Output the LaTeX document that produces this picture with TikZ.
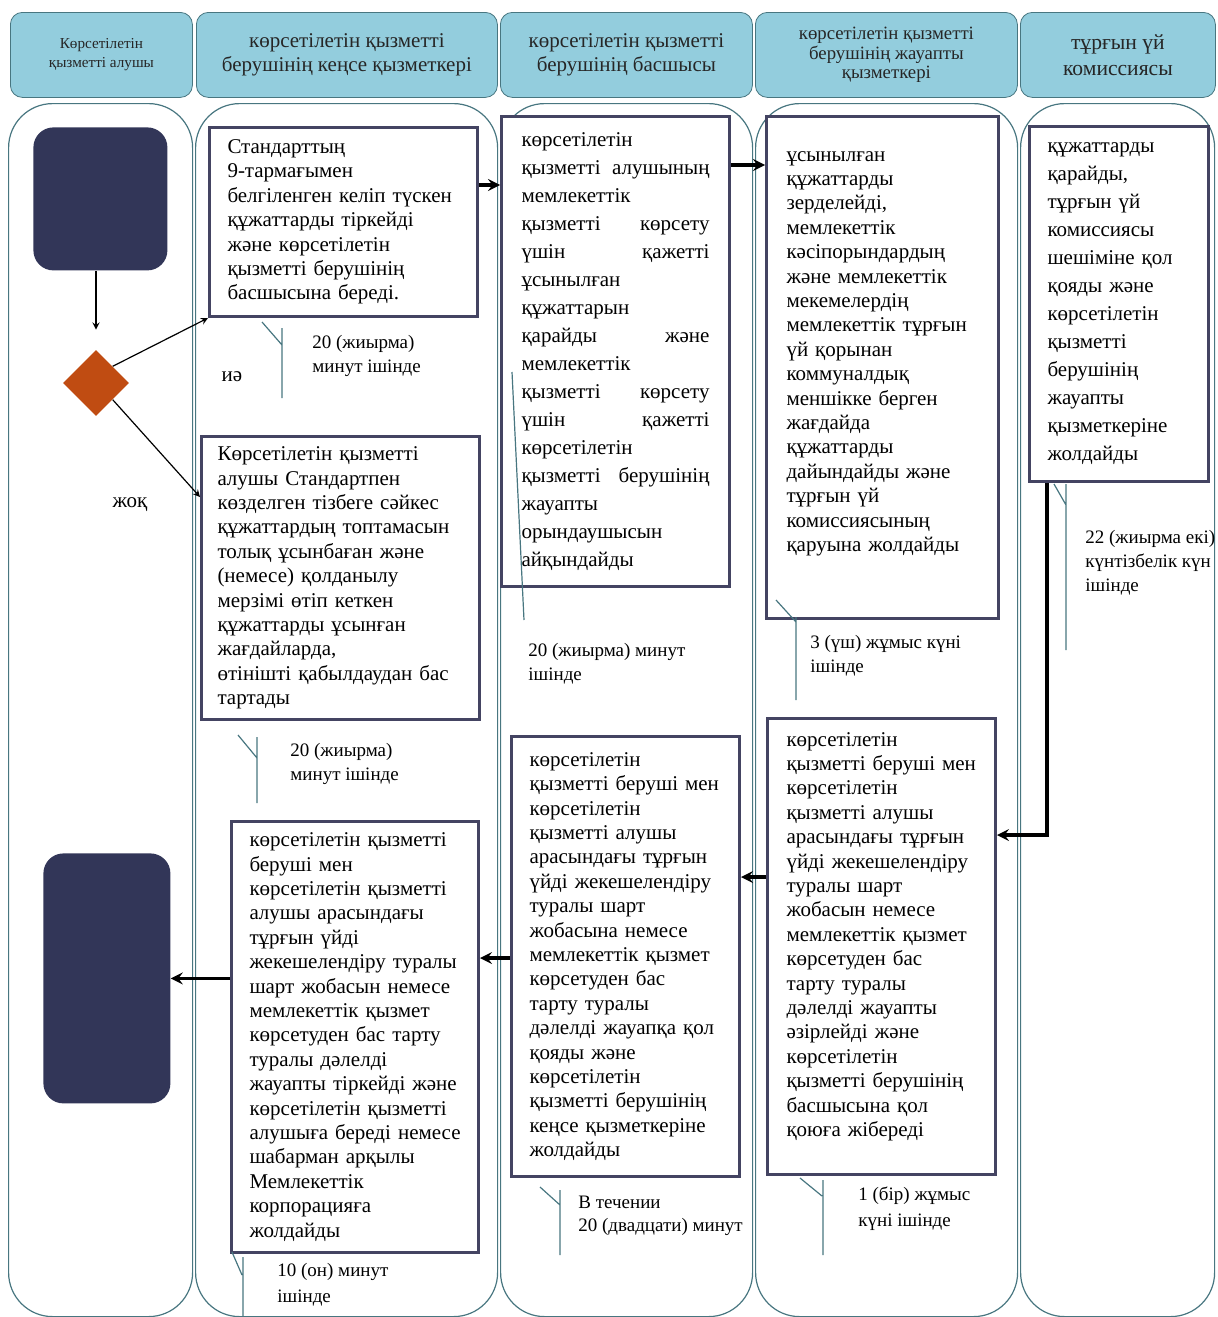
\documentclass[tikz,border=0pt]{standalone}
\usepackage{fontspec}
\setmainfont{Liberation Serif}
\usepackage{tikz}
\usetikzlibrary{shapes.geometric}
\definecolor{headblue}{RGB}{147,205,221}
\definecolor{laneline}{RGB}{72,118,128}
\definecolor{boxline}{RGB}{68,68,98}
\definecolor{navy}{RGB}{50,54,88}
\definecolor{rust}{RGB}{192,76,18}

\begin{document}
\begin{tikzpicture}[x=0.5pt, y=-0.5pt]
% Define styles
\tikzstyle{lanehead} = [rectangle, rounded corners=6pt, draw=laneline, fill=headblue, align=center, anchor=north west, minimum height=42.5pt, inner sep=0pt, text=black!85]
\tikzstyle{lane} = [rectangle, rounded corners=22pt, draw=laneline, line width=0.6pt, anchor=north west, minimum height=606.5pt]
\tikzstyle{terminal} = [rectangle, rounded corners=10pt, fill=navy, anchor=north west]
\tikzstyle{decision} = [diamond, fill=rust, minimum size=33pt, inner sep=0pt]
\tikzstyle{process} = [rectangle, draw=boxline, line width=1.5pt, fill=white, align=left, anchor=north west, inner ysep=0pt, font=\fontsize{10.5}{12.2}\selectfont]
\tikzstyle{timer} = [align=left, anchor=north west, inner sep=0pt, font=\fontsize{9.5}{12}\selectfont]
\tikzstyle{tick} = [laneline, line width=0.6pt]
\tikzstyle{arrow} = [semithick,->,>=stealth]
\tikzstyle{bigarrow} = [line width=1.6pt,->,>=stealth]

\useasboundingbox (0,0) rectangle (1217,1317);

% Lane headers
\node [lanehead, minimum width=91pt, font=\fontsize{7.6}{9.5}\selectfont] (h1) at (10,12) {Көрсетілетін\\қызметті алушы};
\node [lanehead, minimum width=150.5pt, font=\fontsize{10.5}{12}\selectfont] (h2) at (196,12) {көрсетілетін қызметті\\берушінің кеңсе қызметкері};
\node [lanehead, minimum width=126pt, font=\fontsize{10.5}{12}\selectfont] (h3) at (500,12) {көрсетілетін қызметті\\берушінің басшысы};
\node [lanehead, minimum width=131pt, font=\fontsize{9.4}{9.9}\selectfont] (h4) at (755,12) {көрсетілетін қызметті\\берушінің жауапты\\қызметкері};
\node [lanehead, minimum width=97.5pt, font=\fontsize{10.8}{13}\selectfont] (h5) at (1020,12) {тұрғын үй\\комиссиясы};

% Lanes
\node [lane, minimum width=92pt] (lane1) at (8,103) {};
\node [lane, minimum width=151pt] (lane2) at (195,103) {};
\node [lane, minimum width=126pt] (lane3) at (500,103) {};
\node [lane, minimum width=131pt] (lane4) at (755,103) {};
\node [lane, minimum width=97pt] (lane5) at (1020,103) {};

% Place nodes
\node [terminal, minimum width=67pt, minimum height=71.5pt] (start) at (33,127) {};
\node [decision] (dec) at (96,383) {};
\node [terminal, minimum width=63.5pt, minimum height=125pt] (finish) at (43,853) {};

\node [process, minimum width=134pt, minimum height=94.5pt, inner xsep=9pt, text width=116pt] (reg) at (208,126) {Стандарттың\\9-тармағымен\\белгіленген келіп түскен\\құжаттарды тіркейді\\және көрсетілетін\\қызметті берушінің\\басшысына береді.};
\node [process, minimum width=139pt, minimum height=141.5pt, inner xsep=8pt, text width=123pt] (reject) at (200,435) {Көрсетілетін қызметті\\алушы Стандартпен\\көзделген тізбеге сәйкес\\құжаттардың топтамасын\\толық ұсынбаған және\\(немесе) қолданылу\\мерзімі өтіп кеткен\\құжаттарды ұсынған\\жағдайларда,\\өтінішті қабылдаудан бас\\тартады};
\node [process, minimum width=114pt, minimum height=235pt, inner xsep=10pt, text width=94pt, font=\fontsize{10.5}{14}\selectfont] (head) at (500,115) {көрсетілетін\\қызметті\hfill алушының\\мемлекеттік\\қызметті\hfill көрсету\\үшін\hfill қажетті\\ұсынылған\\құжаттарын\\қарайды\hfill және\\мемлекеттік\\қызметті\hfill көрсету\\үшін\hfill қажетті\\көрсетілетін\\қызметті\hfill берушінің\\жауапты\\орындаушысын\\айқындайды};
\node [process, minimum width=116pt, minimum height=251pt, inner xsep=10pt, text width=96pt] (resp) at (765,115) {ұсынылған\\құжаттарды\\зерделейді,\\мемлекеттік\\кәсіпорындардың\\және мемлекеттік\\мекемелердің\\мемлекеттік тұрғын\\үй қорынан\\коммуналдық\\меншікке берген\\жағдайда\\құжаттарды\\дайындайды және\\тұрғын үй\\комиссиясының\\қаруына жолдайды\\[4pt]\mbox{}};
\node [process, minimum width=89.5pt, minimum height=177.5pt, inner xsep=9pt, text width=71.5pt, font=\fontsize{10.5}{14}\selectfont] (comm) at (1028,125) {құжаттарды\\қарайды,\\тұрғын үй\\комиссиясы\\шешіміне қол\\қояды және\\көрсетілетін\\қызметті\\берушінің\\жауапты\\қызметкеріне\\жолдайды};
\node [process, minimum width=114pt, minimum height=228pt, inner xsep=9.5pt, text width=95pt] (prep) at (766,717) {көрсетілетін\\қызметті беруші мен\\көрсетілетін\\қызметті алушы\\арасындағы тұрғын\\үйді жекешелендіру\\туралы шарт\\жобасын немесе\\мемлекеттік қызмет\\көрсетуден бас\\тарту туралы\\дәлелді жауапты\\әзірлейді және\\көрсетілетін\\қызметті берушінің\\басшысына қол\\қоюға жібереді\\[0pt]\mbox{}};
\node [process, minimum width=114pt, minimum height=220pt, inner xsep=9pt, text width=96pt] (sign) at (510,735) {көрсетілетін\\қызметті беруші мен\\көрсетілетін\\қызметті алушы\\арасындағы тұрғын\\үйді жекешелендіру\\туралы шарт\\жобасына немесе\\мемлекеттік қызмет\\көрсетуден бас\\тарту туралы\\дәлелді жауапқа қол\\қояды және\\көрсетілетін\\қызметті берушінің\\кеңсе қызметкеріне\\жолдайды};
\node [process, minimum width=123.5pt, minimum height=215.5pt, inner xsep=9pt, text width=105.5pt] (issue) at (230,820) {көрсетілетін қызметті\\беруші мен\\көрсетілетін қызметті\\алушы арасындағы\\тұрғын үйді\\жекешелендіру~туралы\\шарт жобасын немесе\\мемлекеттік қызмет\\көрсетуден бас тарту\\туралы дәлелді\\жауапты~тіркейді~және\\көрсетілетін қызметті\\алушыға~береді~немесе\\шабарман арқылы\\Мемлекеттік\\корпорацияға\\жолдайды};

% Time notes
\node [timer] (t1) at (312,335) {20 (жиырма)\\минут ішінде};
\node [timer] (t2) at (290,743) {20 (жиырма)\\минут ішінде};
\node [timer] (t3) at (528,643) {20 (жиырма) минут\\ішінде};
\node [timer] (t4) at (810,635) {3 (үш) жұмыс күні\\ішінде};
\node [timer] (t5) at (1085,530) {22 (жиырма екі)\\күнтізбелік күн\\ішінде};
\node [timer, font=\fontsize{9.5}{13}\selectfont] (t6) at (858,1186) {1 (бір) жұмыс\\күні ішінде};
\node [timer, font=\fontsize{9.5}{11.5}\selectfont] (t7) at (578,1196) {В течении\\20 (двадцати) минут};
\node [timer, font=\fontsize{9.5}{13}\selectfont] (t8) at (277,1263) {10 (он) минут\\ішінде};
\node [font=\fontsize{10.5}{12}\selectfont] (yes) at (232,377) {иә};
\node [font=\fontsize{10.5}{12}\selectfont] (no) at (130,505) {жоқ};

% Draw arrows
\draw [arrow, shorten >=10pt] (start.south -| dec.north) -- (dec.north);
\draw [arrow] (dec.north east) -- (reg.south west);
\draw [arrow] (dec.south east) -- ([yshift=-31pt]reject.north west);
\draw [bigarrow] ([yshift=-29.5pt]reg.north east) -- ([yshift=-29.5pt]reg.north east -| head.west);
\draw [bigarrow] ([yshift=-25pt]head.north east) -- ([yshift=-25pt]head.north east -| resp.west);
\draw [bigarrow] ([xshift=9.5pt]comm.south west) |- ([yshift=-59pt]prep.north east);
\draw [bigarrow] ([yshift=-80pt]prep.north west) -- ([yshift=-80pt]prep.north west -| sign.east);
\draw [bigarrow] ([yshift=-111.5pt]sign.north west) -- ([yshift=-111.5pt]sign.north west -| issue.east);
\draw [bigarrow] (finish.east -| issue.west) -- (finish.east);

% Time marks
\draw [tick] (262,322) -- (282,345) (282,328) -- (282,398);
\draw [tick] (238,735) -- (257,758) (257,737) -- (257,803);
\draw [tick] (512,372) -- (524,620);
\draw [tick] (776,600) -- (796,622) (796,617) -- (796,700);
\draw [tick] (1054,484) -- (1066,505) (1066,484) -- (1066,650);
\draw [tick] (800,1178) -- (822,1196) (823,1180) -- (823,1255);
\draw [tick] (540,1187) -- (560,1205) (560,1190) -- (560,1255);
\draw [tick] (232,1252) -- (242,1275) (243,1257) -- (243,1317);
\end{tikzpicture}
\end{document}
